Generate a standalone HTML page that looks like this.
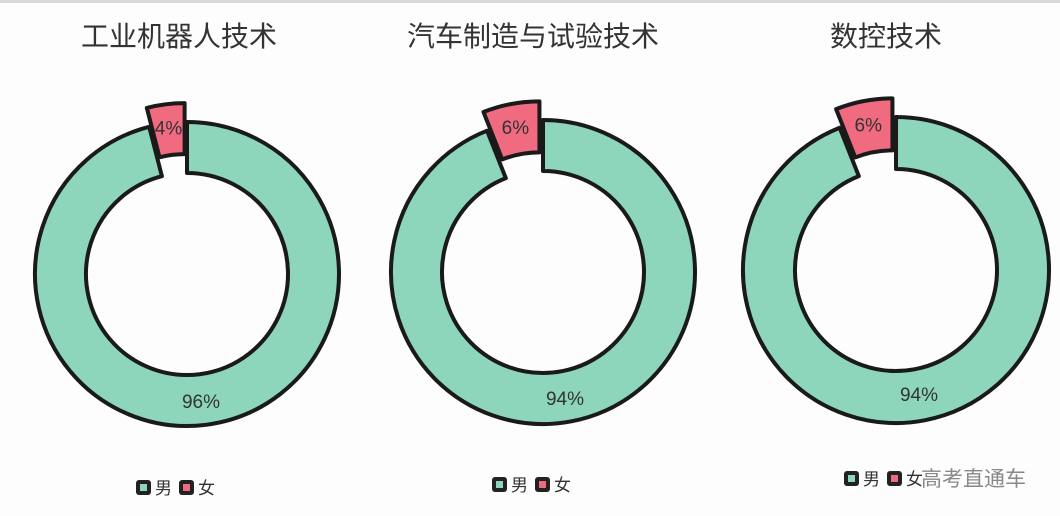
<!DOCTYPE html>
<html><head><meta charset="utf-8"><style>
html,body{margin:0;padding:0;background:#fdfdfd;}
svg{display:block}
text{font-family:"Liberation Sans","Noto Sans CJK SC",sans-serif;}
</style></head><body>
<svg id="s" width="1060" height="516" viewBox="0 0 1060 516">
<rect x="0" y="0" width="1060" height="516" fill="#fdfdfd"/>
<rect x="0" y="0" width="1060" height="3" fill="#d9d9d9"/>
<text x="179" y="46" font-size="28" fill="#333" text-anchor="middle">工业机器人技术</text>
<text x="533" y="46" font-size="28" fill="#333" text-anchor="middle">汽车制造与试验技术</text>
<text x="886" y="46" font-size="28" fill="#333" text-anchor="middle">数控技术</text>
<g id="charts"></g>
<g font-size="17" fill="#333">
<rect x="136" y="480" width="15" height="15" rx="3" fill="#222"/><rect x="140" y="484" width="7" height="7" fill="#8dd5bb"/>
<text x="155" y="494">男</text>
<rect x="179" y="480" width="15" height="15" rx="3" fill="#222"/><rect x="183" y="484" width="7" height="7" fill="#f06b80"/>
<text x="198" y="494">女</text>
<rect x="492" y="477" width="15" height="15" rx="3" fill="#222"/><rect x="496" y="481" width="7" height="7" fill="#8dd5bb"/>
<text x="511" y="491">男</text>
<rect x="535" y="477" width="15" height="15" rx="3" fill="#222"/><rect x="539" y="481" width="7" height="7" fill="#f06b80"/>
<text x="554" y="491">女</text>
<rect x="844" y="471" width="15" height="15" rx="3" fill="#222"/><rect x="848" y="475" width="7" height="7" fill="#8dd5bb"/>
<text x="863" y="485">男</text>
<rect x="887" y="471" width="15" height="15" rx="3" fill="#222"/><rect x="891" y="475" width="7" height="7" fill="#f06b80"/>
<text x="906" y="485">女</text>
<text x="921" y="486" font-size="21" fill="#888">高考直通车</text>
</g>
</svg>
<script>
function pt(cx,cy,r,a){a=a*Math.PI/180;return [cx+r*Math.sin(a),cy-r*Math.cos(a)];}
function arc(cx,cy,R,r,a0,a1){
 var large=(a1-a0)>180?1:0;
 var p1=pt(cx,cy,R,a0),p2=pt(cx,cy,R,a1),p3=pt(cx,cy,r,a1),p4=pt(cx,cy,r,a0);
 return "M"+p1+" A"+R+","+R+" 0 "+large+" 1 "+p2+" L"+p3+" A"+r+","+r+" 0 "+large+" 0 "+p4+"Z";
}
var g=document.getElementById('charts'),h="";
var C=[[187,274,152,101,4,201,408,"96%"],[543,272,152,101,6,565,405,"94%"],[896,270,153,101,6,919,401,"94%"]];
C.forEach(function(c){
 var cx=c[0],cy=c[1],R=c[2],r=c[3],f=c[4]*3.6;
 h+='<path d="'+arc(cx,cy,R,r,0,360-f)+'" fill="#8dd5bb" stroke="#1a1a1a" stroke-width="4" stroke-linejoin="round"/>';
 var mid=-f/2,o=pt(0,0,19,mid);
 var fx=cx+o[0],fy=cy+o[1];
 h+='<path d="'+arc(fx,fy,R,r,-f,0)+'" fill="#f06b80" stroke="#1a1a1a" stroke-width="4" stroke-linejoin="round"/>';
 var lp=pt(fx,fy,(R+r)/2+2,mid);
 h+='<text x="'+lp[0]+'" y="'+(lp[1]+7)+'" font-size="19" fill="#333" text-anchor="middle">'+c[4]+'%</text>';
 h+='<text x="'+c[5]+'" y="'+c[6]+'" font-size="19" fill="#333" text-anchor="middle">'+c[7]+'</text>';
});
g.innerHTML=h;
</script>
</body></html>
